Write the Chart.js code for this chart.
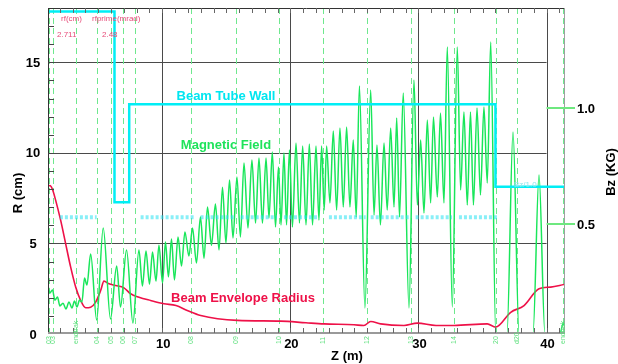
<!DOCTYPE html>
<html>
<head>
<meta charset="utf-8">
<script src="https://cdn.jsdelivr.net/npm/chart.js@4.4.0/dist/chart.umd.min.js"></script>
<style>
  html, body { margin: 0; padding: 0; background: #fff; }
</style>
</head>
<body>
<canvas id="myChart" width="618" height="364"></canvas>
<script>
'use strict';

// axis ticks
const zTicks = [10, 20, 30, 40];
const rTicks = [0, 5, 10, 15];
const bzTicks = [0.5, 1.0];

// beamline elements (dashed markers)
const elementZ = [1.19, 1.47, 3.24, 4.94, 6.0, 6.91, 7.91, 12.24, 15.78, 19.15, 22.57, 26.0, 29.38, 32.81, 36.07, 37.71, 41.30];
const elementNames = ['03', '03', 'endtrak', '04', '05', '06', '07', '08', '09', '10', '11', '12', '13', '14', '20', 'd20', 'endtrak'];

// beam tube wall (cm)
const wallZ = [1.08, 6.27, 6.27, 7.42, 7.42, 36.01, 36.01, 41.36];
const wallR = [17.8, 17.8, 7.28, 7.28, 12.68, 12.68, 8.13, 8.13];

// aperture marks at R = 6.45
const apertureR = 6.45;
const apertureStart = [2.01, 8.31, 12.99, 16.12, 19.5, 23.01, 26.27, 29.78, 33.16];
const apertureEnd = [4.88, 12.47, 15.6, 18.95, 22.08, 25.88, 29.39, 32.62, 36.13];

// beam envelope radius (cm)
const envZ = [1.02, 1.23, 1.41, 1.68, 2.07, 2.46, 2.85, 3.24, 3.63, 4.02, 4.41, 4.80, 5.19, 5.45, 5.84, 6.36, 7.01, 7.53, 8.18, 9.09,
  10.13, 11.07, 11.95, 13.00, 15.85, 19.24, 21.22, 22.62, 24.96, 25.74, 26.27, 27.05, 28.87, 29.91, 31.37, 32.77, 35.37, 36.03, 37.20, 38.24,
  39.41, 40.32, 41.36];
const envR = [8.11, 8.20, 8.02, 7.38, 6.27, 4.98, 3.69, 2.59, 1.85, 1.45, 1.48, 1.76, 2.40, 2.92, 2.77, 2.68, 2.55, 2.22, 2.03, 1.85,
  1.67, 1.57, 1.30, 1.02, 0.75, 0.71, 0.62, 0.56, 0.51, 0.47, 0.69, 0.56, 0.47, 0.60, 0.47, 0.47, 0.56, 0.38, 1.20, 1.57,
  2.50, 2.59, 2.73];

// magnetic field Bz (KG)
const fieldZ = [1.04, 1.23, 1.43, 1.62, 1.82, 2.01, 2.25, 2.48, 2.72, 2.95, 3.15, 3.34, 3.54, 3.73, 3.93, 4.12, 4.41, 4.88, 5.39, 5.96,
  6.44, 6.74, 7.21, 7.71, 8.18, 8.45, 8.73, 9.00, 9.24, 9.51, 9.74, 10.02, 10.25, 10.48, 10.72, 10.95, 11.23, 11.50, 11.77, 12.08,
  12.36, 12.67, 12.98, 13.26, 13.53, 13.84, 14.15, 14.43, 14.70, 14.97, 15.25, 15.52, 15.83, 16.10, 16.38, 16.69, 17.00, 17.28, 17.55, 17.82,
  18.10, 18.33, 18.59, 18.84, 19.07, 19.27, 19.50, 19.70, 19.93, 20.16, 20.44, 20.71, 20.96, 21.22, 21.48, 21.73, 22.00, 22.23, 22.44, 22.64,
  22.83, 23.09, 23.35, 23.61, 23.87, 24.13, 24.39, 24.65, 24.91, 25.14, 25.39, 25.82, 26.27, 26.53, 26.76, 27.03, 27.31, 27.56, 27.83, 28.09,
  28.30, 28.52, 28.81, 29.26, 29.65, 29.91, 30.17, 30.43, 30.69, 30.95, 31.17, 31.47, 31.72, 31.99, 32.25, 32.64, 33.03, 33.29, 33.55, 33.81,
  34.06, 34.29, 34.57, 34.84, 35.11, 35.37, 35.64, 36.03, 36.91, 37.38, 37.85, 38.94, 39.41, 39.87, 41.05, 41.31, 41.48];
const fieldBz = [0.246, 0.203, 0.216, 0.172, 0.185, 0.147, 0.159, 0.134, 0.164, 0.138, 0.168, 0.142, 0.172, 0.164, 0.267, 0.237, 0.371, 0.086, 0.483, 0.091,
  0.319, 0.142, 0.388, 0.073, 0.388, 0.233, 0.384, 0.241, 0.379, 0.254, 0.409, 0.246, 0.422, 0.272, 0.435, 0.259, 0.444, 0.319, 0.466, 0.362,
  0.483, 0.332, 0.530, 0.353, 0.573, 0.409, 0.586, 0.388, 0.659, 0.418, 0.690, 0.440, 0.703, 0.444, 0.763, 0.483, 0.776, 0.504, 0.784, 0.504,
  0.784, 0.526, 0.810, 0.487, 0.746, 0.496, 0.806, 0.496, 0.819, 0.487, 0.849, 0.504, 0.836, 0.496, 0.845, 0.496, 0.836, 0.517, 0.836, 0.560,
  0.836, 0.591, 0.901, 0.560, 0.914, 0.573, 0.918, 0.573, 0.862, 0.530, 1.095, 0.138, 1.078, 0.539, 0.841, 0.496, 0.849, 0.560, 0.914, 0.573,
  0.957, 0.530, 1.065, 0.138, 1.121, 0.582, 0.862, 0.547, 0.948, 0.591, 0.961, 0.616, 0.978, 0.591, 1.263, 0.142, 1.263, 0.647, 0.983, 0.582,
  0.983, 0.582, 1.000, 0.625, 1.004, 0.677, 1.284, 0.030, 0.030, 0.897, 0.030, 0.030, 0.711, 0.030, 0.030, 0.073, 0.040];

const FONT = '"Liberation Sans", Arial, sans-serif';

function pts(xs, ys) {
  return xs.map((v, i) => ({x: v, y: ys[i]}));
}

let apertureData = [];
apertureStart.forEach((s, i) => {
  apertureData.push({x: s, y: apertureR}, {x: apertureEnd[i], y: apertureR}, {x: apertureEnd[i], y: null});
});

function line(ctx, x1, y1, x2, y2) {
  ctx.beginPath();
  ctx.moveTo(x1, y1);
  ctx.lineTo(x2, y2);
  ctx.stroke();
}

const decor = {
  id: 'decor',
  beforeDatasetsDraw(chart) {
    const {ctx, chartArea: a} = chart;
    const x = chart.scales.x, y = chart.scales.y;
    ctx.save();
    ctx.lineWidth = 1;
    // grid
    ctx.strokeStyle = '#4a4a4a';
    zTicks.forEach(z => {
      const px = Math.round(x.getPixelForValue(z)) + 0.5;
      line(ctx, px, a.top, px, a.bottom);
    });
    const gridEnd = x.getPixelForValue(40);
    rTicks.slice(1).forEach(r => {
      const py = Math.round(y.getPixelForValue(r)) + 0.5;
      line(ctx, a.left, py, gridEnd, py);
    });
    // element markers
    ctx.strokeStyle = '#6fe88e';
    ctx.setLineDash([6, 4]);
    elementZ.forEach(z => {
      const px = Math.round(x.getPixelForValue(z)) + 0.5;
      line(ctx, px, a.top, px, a.bottom);
    });
    ctx.restore();
  },
  afterDatasetsDraw(chart) {
    const {ctx, chartArea: a} = chart;
    const x = chart.scales.x, y = chart.scales.y, y2 = chart.scales.y2;
    ctx.save();
    ctx.lineWidth = 1;
    // frame
    ctx.strokeStyle = '#333';
    line(ctx, a.left + 0.5, a.top, a.left + 0.5, a.bottom);
    line(ctx, a.left, a.top + 0.5, a.right + 1, a.top + 0.5);
    ctx.strokeStyle = '#a0a0a0';
    line(ctx, a.right + 0.5, a.top, a.right + 0.5, a.bottom);
    ctx.lineWidth = 2;
    ctx.strokeStyle = '#9a9a9a';
    line(ctx, a.left, a.bottom - 1, a.right + 1, a.bottom - 1);
    // minor ticks
    ctx.lineWidth = 1;
    ctx.strokeStyle = '#666';
    for (let z = Math.ceil(x.min); z <= x.max; z++) {
      const px = Math.round(x.getPixelForValue(z)) + 0.5;
      line(ctx, px, a.bottom - 6, px, a.bottom - 1);
      line(ctx, px, a.top, px, a.top + 5);
    }
    ctx.strokeStyle = '#444';
    for (let r = 1; r < y.max; r++) {
      const py = Math.round(y.getPixelForValue(r)) + 0.5;
      line(ctx, a.left, py, a.left + 6, py);
    }
    // Bz ticks
    ctx.strokeStyle = '#6ee87f';
    ctx.lineWidth = 2;
    bzTicks.forEach(b => {
      const py = Math.round(y2.getPixelForValue(b));
      line(ctx, x.getPixelForValue(40), py, a.right + 11, py);
    });

    // tick labels
    ctx.fillStyle = '#000';
    ctx.font = 'bold 13px ' + FONT;
    ctx.textBaseline = 'middle';
    ctx.textAlign = 'center';
    rTicks.forEach(r => ctx.fillText(String(r), 33, y.getPixelForValue(r) + 1));
    zTicks.forEach(z => ctx.fillText(String(z), x.getPixelForValue(z) + 1, 344));
    ctx.textAlign = 'left';
    bzTicks.forEach(b => ctx.fillText(b.toFixed(1), a.right + 13, y2.getPixelForValue(b) + 1));

    // axis titles
    ctx.textAlign = 'center';
    ctx.fillText('Z (m)', 347, 356);
    ctx.save();
    ctx.translate(18, 193);
    ctx.rotate(-Math.PI / 2);
    ctx.fillText('R (cm)', 0, 0);
    ctx.restore();
    ctx.save();
    ctx.translate(611, 172);
    ctx.rotate(-Math.PI / 2);
    ctx.fillText('Bz (KG)', 0, 0);
    ctx.restore();

    // series labels
    ctx.fillStyle = '#00e6f0';
    ctx.fillText('Beam Tube Wall', 226, 96);
    ctx.fillStyle = '#1ee35a';
    ctx.fillText('Magnetic Field', 226, 145);
    ctx.fillStyle = '#ee1148';
    ctx.fillText('Beam Envelope Radius', 243, 298);

    // rf readout
    ctx.font = '8px ' + FONT;
    ctx.textAlign = 'left';
    ctx.fillStyle = '#e64a78';
    ctx.fillText('rf(cm)', 61, 19);
    ctx.fillText('rfprime(mrad)', 92, 19);
    ctx.fillText('2.711', 57, 35);
    ctx.fillText('2.48', 102, 35);
    ctx.fillStyle = '#8ee6ee';
    ctx.fillText('Bz/1.0', 514, 185);

    // element names
    ctx.font = '7px ' + FONT;
    ctx.fillStyle = '#5fe07e';
    ctx.textBaseline = 'middle';
    elementZ.forEach((z, i) => {
      ctx.save();
      ctx.translate(Math.round(x.getPixelForValue(z)) + 0.5, 344);
      ctx.rotate(-Math.PI / 2);
      ctx.fillText(elementNames[i], 0, 0);
      ctx.restore();
    });
    ctx.restore();
  }
};

let ctxChart = document.getElementById('myChart');
let chart = new Chart(ctxChart, {
  type: 'line',
  data: {
    datasets: [{
      label: 'Beam Tube Wall',
      data: pts(wallZ, wallR),
      borderColor: '#00eef5',
      borderWidth: 2.5,
      yAxisID: 'y'
    }, {
      label: 'aperture',
      data: apertureData,
      borderColor: 'rgba(40,225,240,0.55)',
      borderWidth: 4,
      borderDash: [3, 2],
      spanGaps: false,
      yAxisID: 'y'
    }, {
      label: 'Magnetic Field',
      data: pts(fieldZ, fieldBz),
      borderColor: '#19e65a',
      borderWidth: 1.5,
      cubicInterpolationMode: 'monotone',
      yAxisID: 'y2'
    }, {
      label: 'Beam Envelope Radius',
      data: pts(envZ, envR),
      borderColor: '#ee1148',
      borderWidth: 1.6,
      cubicInterpolationMode: 'monotone',
      yAxisID: 'y'
    }]
  },
  options: {
    responsive: false,
    animation: false,
    elements: { point: { radius: 0 } },
    layout: { padding: { left: 48, top: 8, right: 54, bottom: 30 } },
    plugins: { legend: { display: false }, tooltip: { enabled: false } },
    scales: {
      x: { type: 'linear', display: false, min: 1.08, max: 41.36 },
      y: { display: false, min: 0, max: 18 },
      y2: { display: false, min: 0.026, max: 1.431 }
    }
  },
  plugins: [decor]
});
</script>
</body>
</html>
